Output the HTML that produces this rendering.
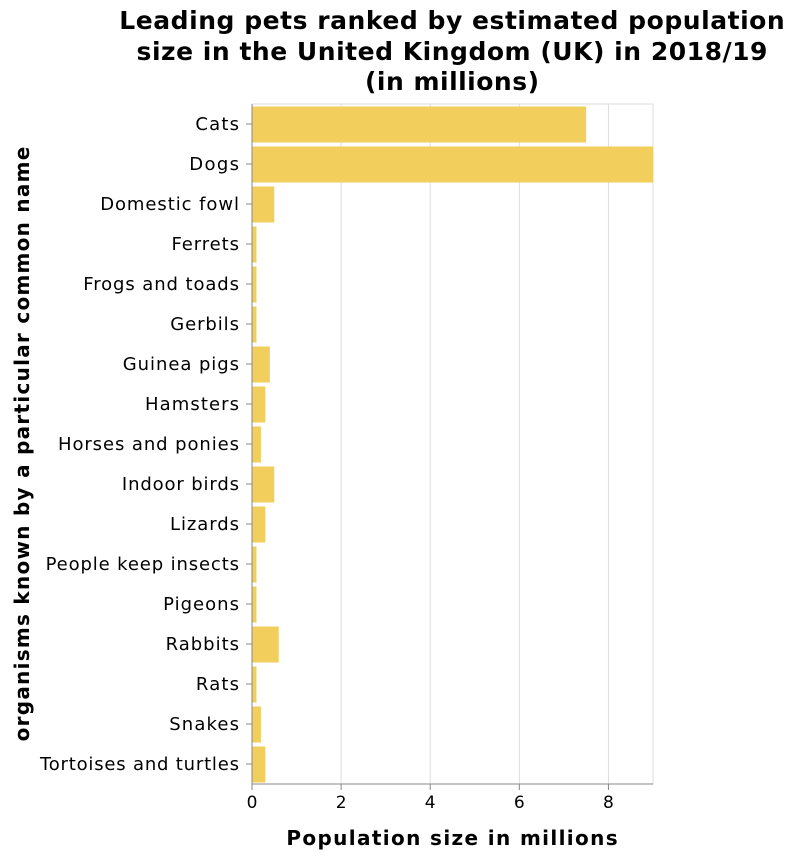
<!DOCTYPE html>
<html><head><meta charset="utf-8">
<style>
body{margin:0;background:#fff;width:794px;height:858px;overflow:hidden;font-family:"DejaVu Sans",sans-serif;}
</style></head>
<body>
<svg id="chart" width="794" height="858" xmlns="http://www.w3.org/2000/svg" font-family="DejaVu Sans, sans-serif">
<g font-weight="bold" font-size="25" text-anchor="middle" fill="#000">
<text class="st" data-k="1.035" x="452" y="29">Leading pets ranked by estimated population</text>
<text class="st" data-k="1.035" x="452" y="60">size in the United Kingdom (UK) in 2018/19</text>
<text class="st" data-k="1.035" x="452" y="90">(in millions)</text>
</g>
<g id="grid"></g>
<g id="bars"></g>
<g id="yaxis"></g>
<g id="xaxis"></g>
<text class="st" data-k="1.12" x="452" y="845" font-size="20" font-weight="bold" text-anchor="middle">Population size in millions</text>
<text class="st" data-k="1.098" transform="translate(29,444) rotate(-90)" font-size="20" font-weight="bold" text-anchor="middle">organisms known by a particular common name</text>
</svg>
<script>
const categories=["Cats","Dogs","Domestic fowl","Ferrets","Frogs and toads","Gerbils","Guinea pigs","Hamsters","Horses and ponies","Indoor birds","Lizards","People keep insects","Pigeons","Rabbits","Rats","Snakes","Tortoises and turtles"];
const values=[7.5,9,0.5,0.1,0.1,0.1,0.4,0.3,0.2,0.5,0.3,0.1,0.1,0.6,0.1,0.2,0.3];
const xTicks=[0,2,4,6,8];
const NS="http://www.w3.org/2000/svg";
const L=252,R=653,T=104,B=784,XMAX=9;
const x=v=>L+v/XMAX*(R-L);
const band=(B-T)/categories.length;
const y=i=>T+i*band;
function mk(tag,attrs,parent){const e=document.createElementNS(NS,tag);for(const k in attrs)e.setAttribute(k,attrs[k]);parent.appendChild(e);return e;}
const grid=document.getElementById('grid'),bars=document.getElementById('bars'),ya=document.getElementById('yaxis'),xa=document.getElementById('xaxis');
mk('rect',{x:L,y:T,width:R-L,height:B-T,fill:'none',stroke:'#ddd'},grid);
xTicks.forEach(t=>{
  const g=mk('line',{x1:x(t),x2:x(t),y1:T,y2:B,stroke:'#ddd'},grid);
  
  
  const tk=mk('line',{x1:x(t),x2:x(t),y1:B,y2:B+6,stroke:'#888'},xa);
  
  
  const lb=mk('text',{x:x(t),y:B+24,'font-size':17,'text-anchor':'middle'},xa);
  lb.textContent=t;
  
  
});
mk('line',{x1:L,x2:R,y1:B,y2:B,stroke:'#888'},xa);
mk('line',{x1:L,x2:L,y1:T,y2:B,stroke:'#888'},ya);
categories.forEach((c,i)=>{
  const pad=band*0.1;
  const r=mk('rect',{x:L,y:y(i)+pad/2+0.5,width:x(values[i])-L,height:band-pad,fill:'#f2ce5c'},bars);
  
  
  const cy=y(i)+band/2;
  const tk=mk('line',{x1:L-6,x2:L,y1:cy,y2:cy,stroke:'#888'},ya);
  
  
  const lb=mk('text',{x:L-13,y:cy+6,'font-size':18,'text-anchor':'end','class':'st','data-k':1.088},ya);
  lb.textContent=c;
  
  
});
document.querySelectorAll('.st').forEach(t=>{
  const w=t.getComputedTextLength();
  t.setAttribute('textLength',(w*parseFloat(t.getAttribute('data-k'))).toFixed(1));
  t.setAttribute('lengthAdjust','spacing');
});
</script>
</body></html>
